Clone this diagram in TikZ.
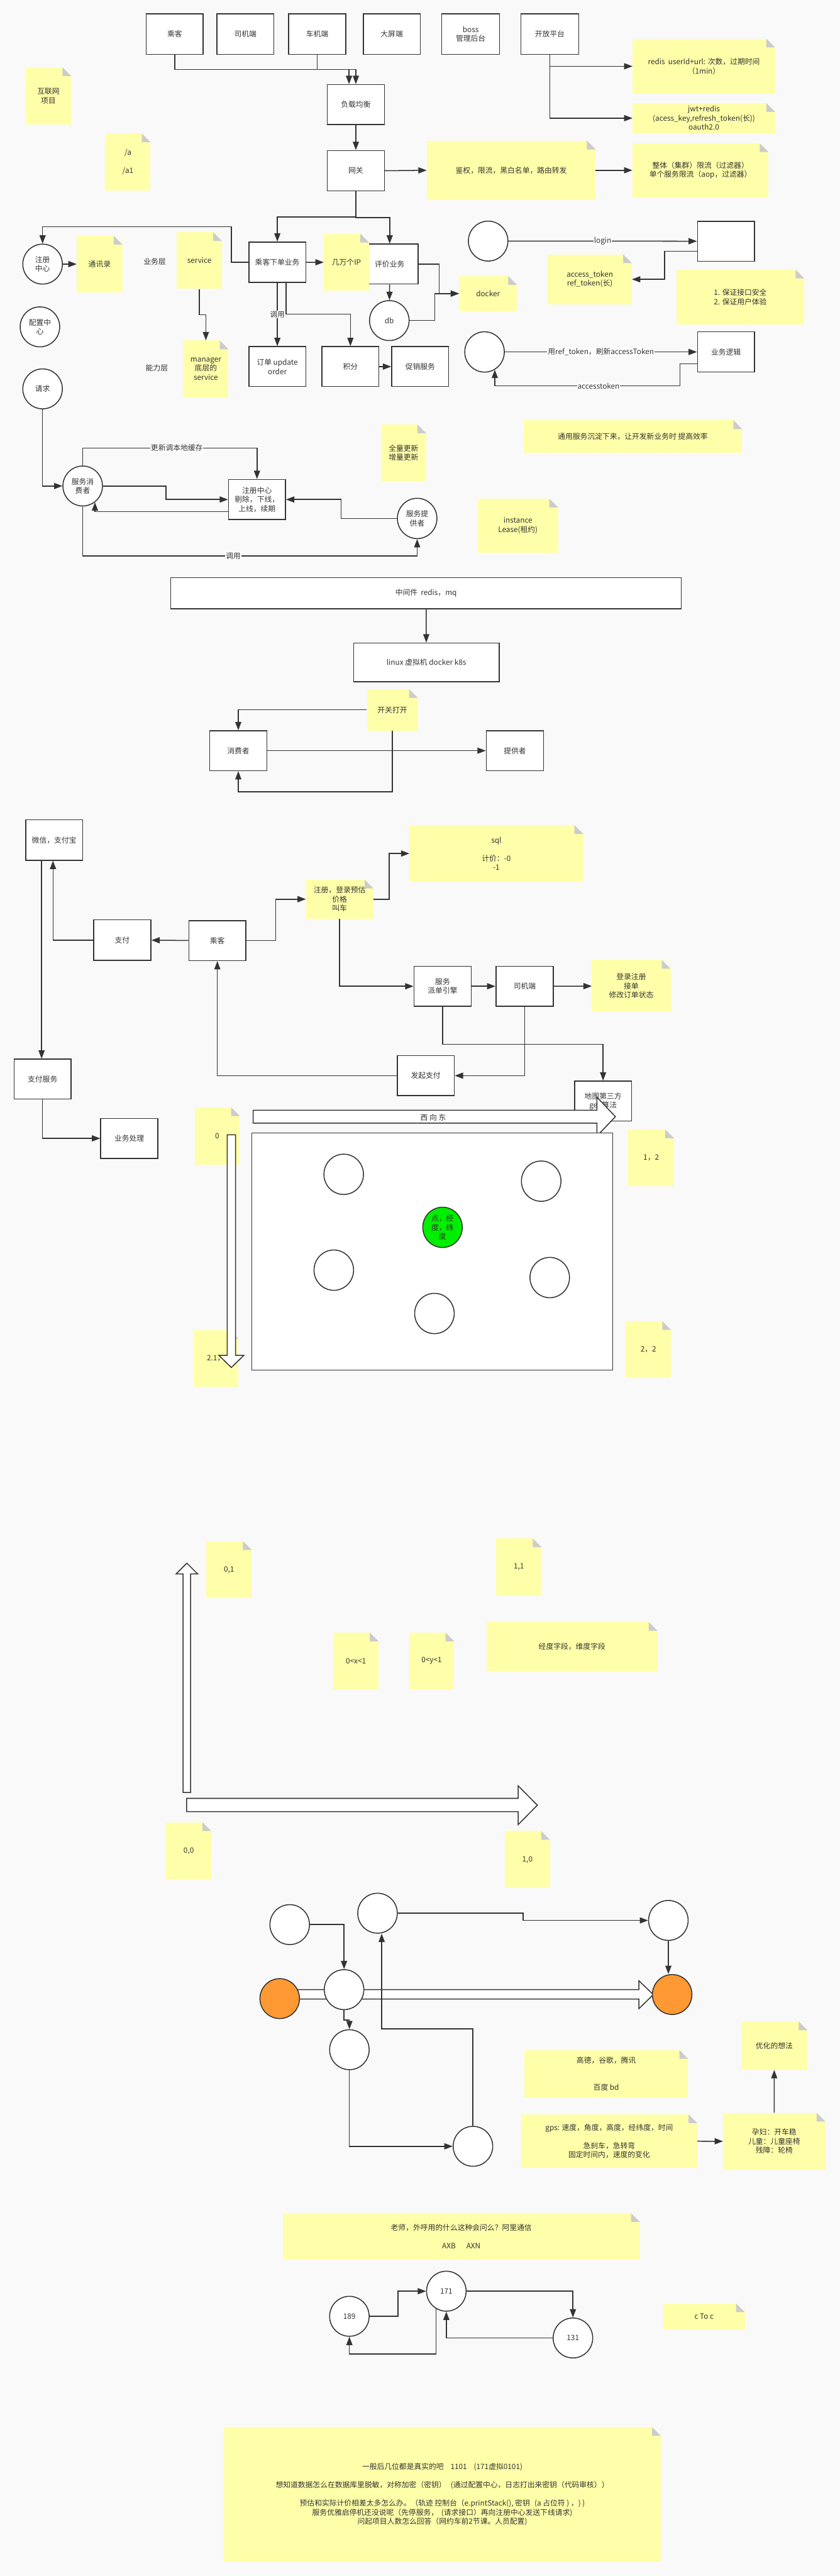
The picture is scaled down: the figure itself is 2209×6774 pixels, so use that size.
\documentclass[tikz,border=0pt]{standalone}
\usepackage{fontspec}
\setmainfont{Noto Sans CJK SC}
\usepackage{tikz}
\usetikzlibrary{arrows.meta,positioning,calc,shapes.geometric}
\definecolor{taxiPage}{HTML}{F9F9F9}
\definecolor{taxiLine}{HTML}{333333}
\definecolor{taxiNote}{HTML}{FFFFA9}
\definecolor{taxiFold}{HTML}{CCCCCC}
\definecolor{taxiGreen}{HTML}{00EE00}
\definecolor{taxiOrange}{HTML}{FF9933}
\tikzset{
  >={Triangle[length=22pt,width=16pt]},
  box/.style={
    draw=taxiLine,
    fill=white,
    line width=2.5pt,
    minimum width=150pt,
    minimum height=105pt,
    inner sep=3pt,
    align=center,
    text=taxiLine
  },
  circ/.style={
    ellipse,
    draw=taxiLine,
    fill=white,
    line width=2.5pt,
    minimum width=104pt,
    minimum height=105pt,
    inner sep=0pt,
    align=center,
    text=taxiLine
  },
  % sticky note with the folded top right corner
  note/.style={
    fill=taxiNote,
    inner sep=2pt,
    align=center,
    text=taxiLine,
    path picture={
      \fill[taxiPage] ($(path picture bounding box.north east)+(-23,0)$) -- (path picture bounding box.north east) -- ($(path picture bounding box.north east)+(0,23)$) -- cycle;
      \fill[taxiFold] ($(path picture bounding box.north east)+(-23,0)$) -- ($(path picture bounding box.north east)+(-23,23)$) -- ($(path picture bounding box.north east)+(0,23)$) -- cycle;
    }
  },
  arrow/.style={
    ->,
    draw=taxiLine,
    line width=2.5pt
  },
  lbl/.style={
    fill=white,
    inner sep=1.5pt,
    text=taxiLine
  },
  freetext/.style={
    text=taxiLine,
    inner sep=0pt
  },
  blockarr/.style={
    draw=taxiLine,
    fill=white,
    line width=2.5pt
  }
}

\begin{document}
\begin{tikzpicture}[x=1pt,y=-1pt,font=\fontsize{19.5}{24}\selectfont]
\useasboundingbox (0,0) rectangle (2209,6774);
\fill[taxiPage] (0,0) rectangle (2209,6774);

% clients, load balancer, gateway
\node[box, minimum height=107pt] (passenger) at (459.5,89.5) {乘客};
\node[box, minimum height=107pt] (driverapp) at (645.5,89.5) {司机端};
\node[box, minimum height=107pt] (carapp) at (834.5,89.5) {车机端};
\node[box, minimum height=107pt] (screen) at (1030.5,89.5) {大屏端};
\node[box, minimum height=107pt, minimum width=152pt] (boss) at (1238,89.5) {boss\\管理后台};
\node[box, minimum height=107pt, minimum width=152pt] (openapi) at (1446,89.5) {开放平台};
\node[box] (lb) at (936,275) {负载均衡};
\node[box, minimum height=106pt] (gateway) at (936,449) {网关};

\node[note, minimum width=444pt, minimum height=156pt] (nAuth) at (1344.7,447.8) {鉴权，限流，黑白名单，路由转发};
\node[note, minimum width=358pt, minimum height=142pt] (nLimit) at (1842.6,447.8) {整体（集群）限流（过滤器）\\单个服务限流（aop，过滤器）};
\node[note, minimum width=375pt, minimum height=145pt] (nRedis) at (1851.4,174.3) {redis\ \ userId+url: 次数，过期时间\\（1min）};
\node[note, minimum width=375pt, minimum height=79pt] (nJwt) at (1851.4,310.7) {jwt+redis\\(acess\_key,refresh\_token(长))\\oauth2.0};

\node[note, minimum width=120pt, minimum height=150pt] (nNet) at (127.3,252) {互联网\\项目};
\node[note, minimum width=119pt, minimum height=150pt] (nPath) at (336.5,426) {/a\\[24pt]/a1};

% business and capability layers
\node[circ] (regc) at (112,694.5) {注册\\中心};
\node[note, minimum width=120pt, minimum height=149pt] (nBook) at (262,694.5) {通讯录};
\node[freetext] (bizLayer) at (407,688) {业务层};
\node[note, minimum width=119pt, minimum height=149pt] (nSvc) at (524.5,685.3) {service};
\node[freetext] (capLayer) at (412.5,967) {能力层};
\node[note, minimum width=119pt, minimum height=150pt] (nMgr) at (541.5,970.3) {manager\\底层的\\service};
\node[circ] (confc) at (105,859.5) {配置中\\心};
\node[circ] (reqc) at (112,1022.6) {请求};
\node[box, minimum height=106pt] (order) at (729.5,689.6) {乘客下单业务};
\node[box] (review) at (1025,694.5) {评价业务};
\node[note, minimum width=119pt, minimum height=150pt] (nIP) at (911.3,689.8) {几万个IP};
\node[circ] (db) at (1024,843) {db};
\node[box] (orderupd) at (729.5,964) {订单 update\\order};
\node[box] (points) at (921.7,964) {积分};
\node[box] (promo) at (1105.3,964) {促销服务};
\node[note, minimum width=152pt, minimum height=92pt] (nDocker) at (1283.7,772) {docker};

% tokens
\node[circ] (loginc) at (1284,634) {};
\node[box] (authbox) at (1909.5,634.3) {};
\node[note, minimum width=221pt, minimum height=131pt] (nToken) at (1551.5,734.5) {access\_token\\ref\_token(长)};
\node[note, minimum width=337pt, minimum height=145pt] (nSafe) at (1947.3,781.6) {1. 保证接口安全\\2. 保证用户体验};
\node[circ, minimum height=106pt] (refc) at (1274.5,925.5) {};
\node[box, minimum height=106pt] (bizbox) at (1909.5,925.5) {业务逻辑};
\node[note, minimum width=575pt, minimum height=85pt] (nCommon) at (1664.5,1147.8) {通用服务沉淀下来，让开发新业务时 提高效率};
\node[note, minimum width=211pt, minimum height=142pt] (nLease) at (1362.4,1382.2) {instance\\Lease(租约)};
\node[note, minimum width=119pt, minimum height=149pt] (nFull) at (1061.5,1190.8) {全量更新\\增量更新};

% registry
\node[circ] (consumer) at (217.5,1278) {服务消\\费者};
\node[box] (regbox) at (676,1313.5) {注册中心\\剔除，下线，\\上线，续期};
\node[circ, minimum height=106pt] (provider) at (1097.3,1363.3) {服务提\\供者};

% middleware and switch
\node[box, minimum width=1343pt, minimum height=82pt] (mid) at (1120.7,1560) {中间件\ \ redis，mq};
\node[box, minimum width=383pt, minimum height=102pt] (linux) at (1121.5,1742) {linux 虚拟机 docker k8s};
\node[note, minimum width=134pt, minimum height=109pt] (nSwitch) at (1032,1866.7) {开关打开};
\node[box] (consumer2) at (626.8,1974) {消费者};
\node[box, minimum width=151pt] (provider2) at (1354.5,1974) {提供者};

% payment and dispatch
\node[box, minimum height=106pt] (wx) at (142.4,2209) {微信，支付宝};
\node[box, minimum width=151pt, minimum height=106pt] (pay) at (321.5,2472) {支付};
\node[box] (passenger2) at (571.7,2473.5) {乘客};
\node[box] (paysvc) at (112,2837.7) {支付服务};
\node[box] (bizproc) at (340,2993.5) {业务处理};
\node[note, minimum width=177pt, minimum height=103pt] (nReg) at (893.3,2364.5) {注册，登录预估\\价格\\叫车};
\node[note, minimum width=457pt, minimum height=149pt] (nSql) at (1305.5,2244.5) {sql\\[24pt]计价：-0\\-1};
\node[box, minimum width=151pt] (dispatch) at (1164.3,2593.5) {服务\\派单引擎};
\node[box, minimum width=151pt] (driver2) at (1380,2593.5) {司机端};
\node[note, minimum width=207pt, minimum height=137pt] (nDriver) at (1660.4,2593) {登录注册\\接单\\修改订单状态};
\node[box] (mapbox) at (1586.3,2895.5) {地图第三方\\geo算法};
\node[box] (launchpay) at (1119.9,2828.6) {发起支付};

% map grid
\draw[blockarr] (665.7,2919.5) -- (1570,2919.5) -- (1570,2885) -- (1618.7,2936.4) -- (1570,2987.6) -- (1570,2953.5) -- (665.7,2953.5) -- cycle;
\node[freetext] (westeast) at (1139.5,2938) {西 向 东};
\node[note, minimum width=119pt, minimum height=150pt] (n0) at (571.4,2987) {0};
\node[note, minimum width=118pt, minimum height=150pt] (n21) at (567.6,3572) {2.1，};
\node[note, minimum width=120pt, minimum height=149pt] (n12) at (1712.8,3044.5) {1，2};
\node[note, minimum width=119pt, minimum height=150pt] (n22) at (1705.4,3549) {2，2};
\draw[blockarr] (597.5,2984) -- (619.5,2984) -- (619.5,3564) -- (641.5,3564) -- (608.5,3596) -- (575.5,3564) -- (597.5,3564) -- cycle;
\node[box, minimum width=949.5pt, minimum height=624pt] (area) at (1137.25,3291) {};
\node[circ, minimum height=106pt] (p1) at (904,3088) {};
\node[circ, minimum height=106pt] (p2) at (1423.5,3106) {};
\node[circ, minimum height=106pt, fill=taxiGreen] (pc) at (1164,3227.5) {点，经\\度，纬\\度};
\node[circ, minimum height=106pt] (p4) at (878,3340) {};
\node[circ, minimum height=106pt] (p5) at (1446,3359.5) {};
\node[circ, minimum height=106pt] (p6) at (1142.7,3454) {};

% unit square axes
\draw[blockarr] (481.6,4713.4) -- (481.6,4139) -- (463,4139) -- (491.5,4110.7) -- (520,4139) -- (501.4,4139) -- (501.4,4713.4) -- cycle;
\draw[blockarr] (490.8,4729) -- (1363,4729) -- (1363,4696) -- (1413.3,4747) -- (1363,4798) -- (1363,4764) -- (490.8,4764) -- cycle;
\node[note, minimum width=119pt, minimum height=150pt] (n01) at (602.5,4127.8) {0,1};
\node[note, minimum width=119pt, minimum height=150pt] (n11) at (1364.8,4120.4) {1,1};
\node[note, minimum width=119pt, minimum height=149pt] (nx) at (936.3,4367.5) {0<x<1};
\node[note, minimum width=119pt, minimum height=149pt] (ny) at (1135.3,4367.5) {0<y<1};
\node[note, minimum width=450pt, minimum height=129pt] (nField) at (1504.6,4330) {经度字段，维度字段};
\node[note, minimum width=119pt, minimum height=150pt] (n00) at (496.4,4866.9) {0,0};
\node[note, minimum width=119pt, minimum height=150pt] (n10) at (1387.3,4890) {1,0};

% route graph
\draw[blockarr] (736,5232) -- (1680.6,5232) -- (1680.6,5208.7) -- (1718.4,5245) -- (1680.6,5282) -- (1680.6,5256.6) -- (736,5256.6) -- cycle;
\node[circ] (ga) at (762,5061) {};
\node[circ] (gb) at (993,5031) {};
\node[circ] (gc) at (1758,5050) {};
\node[circ, fill=taxiOrange] (start) at (735.7,5255.6) {};
\node[circ] (gd) at (905,5232) {};
\node[circ, fill=taxiOrange] (goal) at (1768,5244.8) {};
\node[circ] (ge) at (919,5390) {};
\node[circ] (gf) at (1244,5644) {};
\node[note, minimum width=431pt, minimum height=124pt] (nMap) at (1594.5,5453) {高德，谷歌，腾讯\\[48pt]百度 bd};
\node[note, minimum width=463pt, minimum height=141pt] (nGps) at (1602.4,5630.5) {gps: 速度，角度，高度，经纬度，时间\\[24pt]急刹车，急转弯\\固定时间内，速度的变化};
\node[note, minimum width=269pt, minimum height=150pt] (nPeople) at (2036.4,5630.9) {孕妇：开车稳\\儿童：儿童座椅\\残障：轮椅};
\node[note, minimum width=175pt, minimum height=127pt] (nIdea) at (2036.5,5379.4) {优化的想法};

% number masking
\node[note, minimum width=939pt, minimum height=122pt] (nCall) at (1213.4,5881) {老师，外呼用的什么这种会问么？阿里通信\\[24pt]AXB\hspace{28pt}AXN};
\node[circ] (n189) at (919,6091) {189};
\node[circ] (n171) at (1174,6025) {171};
\node[circ] (n131) at (1507,6148) {131};
\node[note, minimum width=214pt, minimum height=68pt] (nCtoc) at (1852,6091) {c To c};
\node[note, minimum width=1149pt, minimum height=354pt] (nQa) at (1163.5,6559.3) {一般后几位都是真实的吧\hspace{18pt}1101\hspace{18pt}(171虚拟0101)\\[24pt]想知道数据怎么在数据库里脱敏，对称加密（密钥）\hspace{12pt}(通过配置中心，日志打出来密钥（代码审核））\\[24pt]预估和实际计价相差太多怎么办。（轨迹 控制台（e.printStack(), 密钥\hspace{12pt}(a 占位符 ) ，) )\\服务优雅启停机还没说呢（先停服务，\hspace{8pt}(请求接口）再向注册中心发送下线请求)\\问起项目人数怎么回答（网约车前2节课。人员配置)};

% connectors
\draw[arrow] (passenger.south) -- ++(0,38.6) -| ([xshift=-18pt]lb.north);
\draw[arrow] (carapp.south) -- ++(0,38.6) -| (lb.north);
\draw[arrow] (lb) -- (gateway);
\draw[arrow] (gateway.east) -- (nAuth.west);
\draw[arrow] (nAuth) -- (nLimit);
\draw[arrow] (openapi.south) |- (nRedis.west);
\draw[arrow] (openapi.south) |- (nJwt.west);
\draw[arrow] (gateway.south) -- ++(0,67) -| (order.north);
\draw[arrow] (gateway.south) -- ++(0,69) -| (review.north);

\draw[arrow] (order.west) -- ++(-45,0) -- ++(0,-93.5) -| (regc.north);
\draw[arrow] (regc) -- (nBook);
\draw[arrow] (nSvc.south) -- ++(0,68) -| (nMgr.north);
\draw[arrow] (order) -- (nIP);
\draw[arrow] (review) -- (db);
\draw[arrow] (order) -- node[lbl]{调用} (orderupd);
\draw[arrow] ([xshift=23pt]order.south) -- ++(0,82) -| (points.north);
\draw[arrow] (points) -- (promo);
\draw[arrow] (review.east) -- ++(54,0) |- (nDocker.west);
\draw[arrow] (db.east) -- ++(66,0) |- (nDocker.west);

\draw[arrow] (loginc) -- node[lbl]{login} (authbox);
\draw[arrow] ([yshift=-26pt]authbox.west) -- ++(-85.5,0) |- (nToken.east);
\draw[arrow] (refc) -- node[lbl]{用ref\_token，刷新accessToken} (bizbox);
\draw[arrow] ([yshift=-31pt]bizbox.west) -- ++(-44.4,0) -- ++(0,58.2) -| node[lbl,pos=0.22]{accesstoken} (refc.300);

\draw[arrow] (reqc.south) |- (consumer.west);
\draw[arrow] (consumer.north) -- ++(0,-46) -| node[lbl,pos=0.27]{更新调本地缓存} (regbox.north);
\draw[arrow] (consumer.east) -- ++(166,0) |- (regbox.west);
\draw[arrow] ([yshift=-31.5pt]regbox.west) -| (consumer.307);
\draw[arrow] (provider.west) -- ++(-147,0) |- (regbox.east);
\draw[arrow] (consumer.south) -- ++(0,130) -| node[lbl,pos=0.225]{调用} (provider.south);

\draw[arrow] (mid) -- (linux);
\draw[arrow] (nSwitch.west) -| (consumer2.north);
\draw[arrow] (nSwitch.south) -- ++(0,160.6) -| (consumer2.south);
\draw[arrow] (consumer2) -- (provider2);

\draw[arrow] (passenger2) -- (pay);
\draw[arrow] (pay.west) -| ([xshift=-3pt]wx.south);
\draw[arrow] ([xshift=-33pt]wx.south) -- ([xshift=-2.6pt]paysvc.north);
\draw[arrow] (paysvc.south) |- (bizproc.west);
\draw[arrow] (passenger2.east) -- ++(77,0) |- (nReg.west);
\draw[arrow] (nReg.east) -- ++(42,0) |- (nSql.west);
\draw[arrow] (nReg.south) |- (dispatch.west);
\draw[arrow] (dispatch) -- (driver2);
\draw[arrow] (driver2) -- (nDriver);
\draw[arrow] (dispatch.south) -- ++(0,98.6) -| (mapbox.north);
\draw[arrow] (driver2.south) |- (launchpay.east);
\draw[arrow] (launchpay.west) -| (passenger2.south);

\draw[arrow] (ga.east) -| (gd.north);
\draw[arrow] (gb.east) -- ++(329.5,0) |- (gc.west);
\draw[arrow] (gc.south) -- (gc.south |- goal.north);
\draw[arrow] (gd.south) -- ++(0,26.5) -| (ge.north);
\draw[arrow] (ge.south) |- (gf.west);
\draw[arrow] (gf.north) -- ++(0,-254.8) -| ([xshift=11pt]gb.south);
\draw[arrow] (nGps) -- (nPeople);
\draw[arrow] (nPeople) -- (nIdea);

\draw[arrow] (n189.east) -- ++(75,0) |- (n171.west);
\draw[arrow] (n171.east) -| (n131.north);
\draw[arrow] (n131.west) -| (n171.south);
\draw[arrow] (n171.240) -- ++(0,118.5) -| (n189.south);

\end{tikzpicture}
\end{document}
